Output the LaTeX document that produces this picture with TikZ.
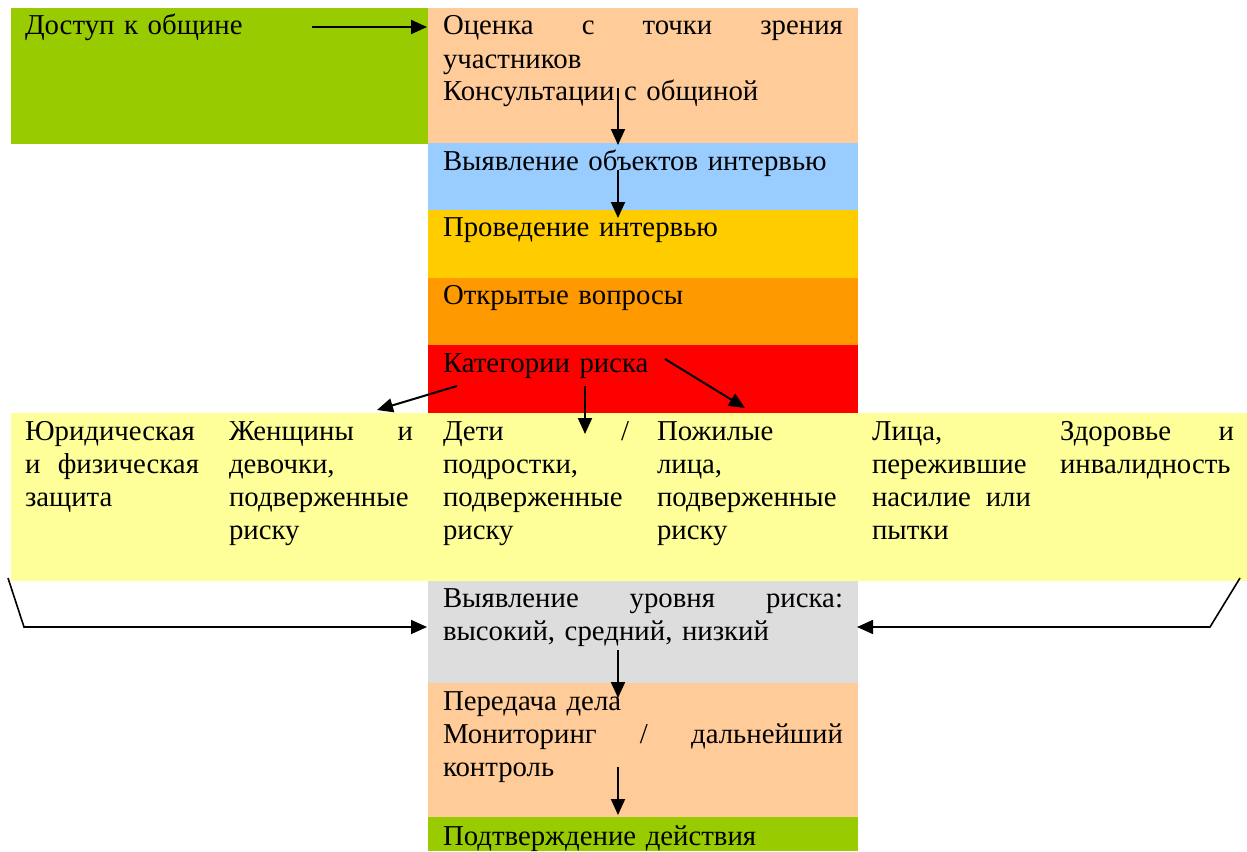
\documentclass[tikz,border=0pt]{standalone}
\usepackage{fontspec}
\setmainfont{Liberation Serif}
\usetikzlibrary{arrows.meta}
\definecolor{cgreen}{HTML}{99CC00}
\definecolor{cpeach}{HTML}{FFCC99}
\definecolor{cblue}{HTML}{99CCFF}
\definecolor{cgold}{HTML}{FFCC00}
\definecolor{corange}{HTML}{FF9900}
\definecolor{cred}{HTML}{FF0000}
\definecolor{cyel}{HTML}{FFFF99}
\definecolor{cgray}{HTML}{DDDDDD}
\newcommand{\jl}[2]{\leavevmode\hbox to #1{#2}}
\begin{document}
\begin{tikzpicture}[x=1pt,y=-1pt,
  box/.style={fill=#1,draw=none,inner sep=0pt,outer sep=0pt,anchor=north west},
  txt/.style={inner sep=0pt,outer sep=0pt,anchor=base west,align=left,text width=#1,
     font=\fontsize{28.8}{33}\selectfont},
  txt/.default=420pt,
  arr/.style={line width=2pt,-{Triangle[length=16pt,width=14pt]}}]
\useasboundingbox (0,0) rectangle (1247,851);
% boxes
\node[box=cgreen,minimum width=417pt,minimum height=136pt] (access) at (11,8) {};
\node[box=cpeach,minimum width=430pt,minimum height=135pt] (assess) at (428,8) {};
\node[box=cblue,minimum width=430pt,minimum height=67pt] (ident) at (428,143) {};
\node[box=cgold,minimum width=430pt,minimum height=68pt] (interview) at (428,210) {};
\node[box=corange,minimum width=430pt,minimum height=67pt] (open) at (428,278) {};
\node[box=cred,minimum width=430pt,minimum height=68pt] (cat) at (428,345) {};
\node[box=cyel,minimum width=1236pt,minimum height=168pt] (groups) at (11,413) {};
\node[box=cgray,minimum width=430pt,minimum height=102pt] (level) at (428,581) {};
\node[box=cpeach,minimum width=430pt,minimum height=134pt] (refer) at (428,683) {};
\node[box=cgreen,minimum width=430pt,minimum height=34pt] (confirm) at (428,817) {};
% texts
\node[txt=300pt] (t1) at (25,35) {Доступ к общине};
\node[txt=400pt] (t2) at (443,35) {\jl{400pt}{Оценка\hfill с\hfill точки\hfill зрения}\\участников\\Консультации с общиной};
\node[txt] (t3) at (443,170) {Выявление объектов интервью};
\node[txt] (t4) at (443,236) {Проведение интервью};
\node[txt] (t5) at (443,304) {Открытые вопросы};
\node[txt] (t6) at (443,372) {Категории риска};
\node[txt=180pt] (g1) at (25,440) {Юридическая\\\jl{174pt}{и\hfill физическая}\\защита};
\node[txt=190pt] (g2) at (229,440) {\jl{184pt}{Женщины\hfill и}\\девочки,\\подверженные\\риску};
\node[txt=190pt] (g3) at (443,440) {\jl{186pt}{Дети\hfill /}\\подростки,\\подверженные\\риску};
\node[txt=190pt] (g4) at (657,440) {Пожилые\\лица,\\подверженные\\риску};
\node[txt=165pt] (g5) at (872,440) {Лица,\\пережившие\\\jl{159pt}{насилие\hfill или}\\пытки};
\node[txt=180pt] (g6) at (1060,440) {\jl{174pt}{Здоровье\hfill и}\\инвалидность};
\node[txt=400pt] (t7) at (443,607) {\jl{400pt}{Выявление\hfill уровня\hfill риска:}\\высокий, средний, низкий};
\node[txt=400pt] (t8) at (443,710) {Передача дела\\\jl{400pt}{Мониторинг\hfill /\hfill дальнейший}\\контроль};
\node[txt] (t9) at (443,845) {Подтверждение действия};
% arrow endpoints
\coordinate (a1s) at (312,27);  \coordinate (a1e) at (427,27);
\coordinate (a2s) at (618,88);  \coordinate (a2e) at (618,145);
\coordinate (a3s) at (618,170); \coordinate (a3e) at (618,218);
\coordinate (a4s) at (457,386); \coordinate (a4e) at (377,410);
\coordinate (a5s) at (585,386); \coordinate (a5e) at (585,434);
\coordinate (a6s) at (665,359); \coordinate (a6e) at (745,408);
\coordinate (l1) at (8,578);   \coordinate (l2) at (24,627);  \coordinate (l3) at (427,627);
\coordinate (r1) at (1240,578); \coordinate (r2) at (1210,627); \coordinate (r3) at (857,627);
\coordinate (a9s) at (618,650); \coordinate (a9e) at (618,698);
\coordinate (a10s) at (618,767); \coordinate (a10e) at (618,815);
% arrows
\draw[arr] (a1s) -- (a1e);
\draw[arr] (a2s) -- (a2e);
\draw[arr] (a3s) -- (a3e);
\draw[arr] (a4s) -- (a4e);
\draw[arr] (a5s) -- (a5e);
\draw[arr] (a6s) -- (a6e);
\draw[arr,line width=1.6pt] (l1) -- (l2) -- (l3);
\draw[arr,line width=1.6pt] (r1) -- (r2) -- (r3);
\draw[arr] (a9s) -- (a9e);
\draw[arr] (a10s) -- (a10e);
\end{tikzpicture}
\end{document}
